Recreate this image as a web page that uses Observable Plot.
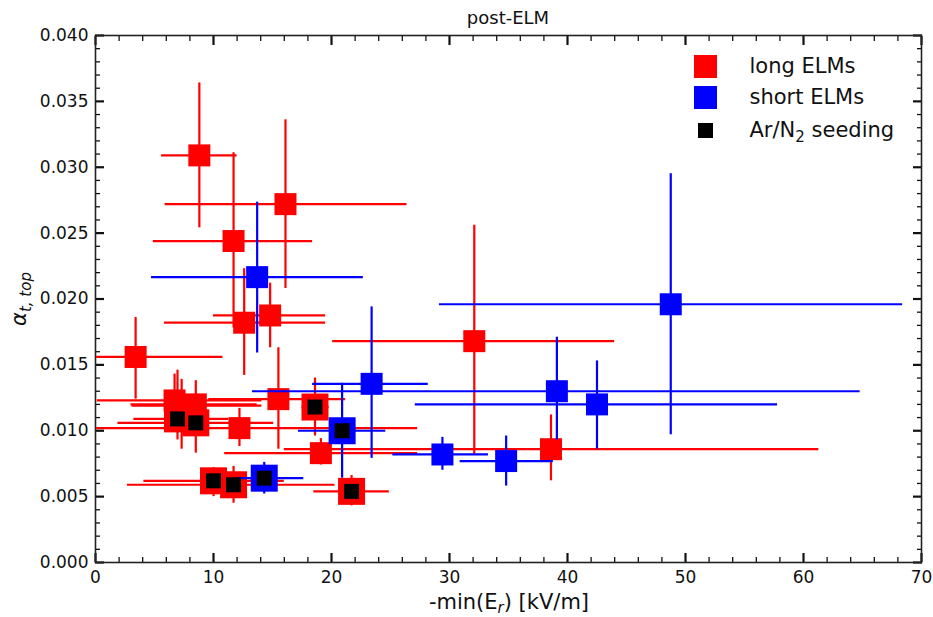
<!DOCTYPE html>
<html><head><meta charset="utf-8">
<script src="https://cdn.jsdelivr.net/npm/d3@7"></script>
<script src="https://cdn.jsdelivr.net/npm/@observablehq/plot@0.6"></script>
<style>
body{margin:0;background:#fff}
#chart svg{font-family:"DejaVu Sans",sans-serif;background:#fff}
</style>
</head><body><div id="chart"></div>
<script>
// ---- long ELMs (red) ----
const longX   = [8.8, 16.1, 11.7, 12.6, 14.8, 3.4, 32.1, 38.6, 15.5, 18.6, 21.7, 19.1, 12.2, 10.0, 11.7, 6.7, 6.95, 7.3, 8.5, 8.5];
const longY   = [0.0309, 0.0272, 0.0244, 0.0182, 0.01875, 0.0156, 0.0168, 0.0086, 0.0124, 0.0118, 0.0054, 0.0083, 0.0102, 0.0062, 0.0059, 0.0123, 0.0109, 0.0119, 0.0120, 0.0106];
const longXLo = [5.6, 5.9, 4.9, 5.85, 10.0, 0.1, 20.1, 16.0, 9.6, 17.5, 18.5, 10.95, 0.1, 4.1, 2.7, 0.15, 3.25, 3.1, 3.0, 1.9];
const longXHi = [12.0, 26.4, 18.4, 19.5, 19.5, 10.8, 44.0, 61.3, 21.2, 19.8, 24.9, 27.3, 27.3, 16.0, 20.3, 14.1, 11.3, 14.1, 13.7, 15.1];
const longYLo = [0.0254, 0.0208, 0.0178, 0.0142, 0.0163, 0.0124, 0.0082, 0.0062, 0.0086, 0.0096, 0.0043, 0.0074, 0.0088, 0.0050, 0.0045, 0.0099, 0.0093, 0.0086, 0.0101, 0.0083];
const longYHi = [0.0364, 0.0336, 0.0311, 0.0223, 0.0212, 0.0186, 0.0256, 0.0112, 0.0163, 0.0140, 0.0066, 0.0094, 0.0117, 0.0072, 0.0073, 0.0143, 0.0146, 0.0139, 0.0138, 0.0118];
const longSeeded = [0,0,0,0,0,0,0,0,0,1,1,0,0,1,1,0,1,0,0,1];

// ---- short ELMs (blue) ----
const shortX   = [13.7, 23.4, 39.1, 42.5, 29.4, 34.8, 48.75, 20.9, 14.3];
const shortY   = [0.02166, 0.01356, 0.0130, 0.0120, 0.0082, 0.0077, 0.0196, 0.0100, 0.0064];
const shortXLo = [4.75, 18.4, 13.3, 27.1, 25.2, 30.9, 29.15, 17.2, 12.0];
const shortXHi = [22.7, 28.2, 64.8, 57.8, 33.3, 38.8, 68.4, 24.6, 17.65];
const shortYLo = [0.0159, 0.0079, 0.0093, 0.0086, 0.0070, 0.0058, 0.0097, 0.0064, 0.0052];
const shortYHi = [0.02735, 0.0194, 0.0171, 0.0153, 0.0095, 0.0096, 0.0295, 0.0136, 0.0076];
const shortSeeded = [0,0,0,0,0,0,0,1,1];

// ---- ticks & legend ----
const xMajor = [0, 10, 20, 30, 40, 50, 60, 70];
const xMinor = [2,4,6,8,12,14,16,18,22,24,26,28,32,34,36,38,42,44,46,48,52,54,56,58,62,64,66,68];
const yMajor = [0, 0.005, 0.010, 0.015, 0.020, 0.025, 0.030, 0.035, 0.040];
const yMinor = [0.001,0.002,0.003,0.004,0.006,0.007,0.008,0.009,0.011,0.012,0.013,0.014,0.016,0.017,0.018,0.019,
                0.021,0.022,0.023,0.024,0.026,0.027,0.028,0.029,0.031,0.032,0.033,0.034,0.036,0.037,0.038,0.039];
const legendLabels = ["long ELMs", "short ELMs", "Ar/N2 seeding"];
const legendColors = ["#ff0000", "#0000ff", "#000000"];
const titleText = "post-ELM";

function table(X, Y, XLo, XHi, YLo, YHi, S) {
  return X.map((x, i) => ({x, y: Y[i], xlo: XLo[i], xhi: XHi[i], ylo: YLo[i], yhi: YHi[i], seeded: S[i] === 1}));
}
const longData = table(longX, longY, longXLo, longXHi, longYLo, longYHi, longSeeded);
const shortData = table(shortX, shortY, shortXLo, shortXHi, shortYLo, shortYHi, shortSeeded);
const seededData = [...longData.filter(d => d.seeded), ...shortData.filter(d => d.seeded)];

const RED = "#ff0000", BLUE = "#0000ff";
const SQ = 22 / Math.sqrt(Math.PI);      // r giving a 22px square
const SQ_OUT = 27 / Math.sqrt(Math.PI);
const SQ_IN = 15 / Math.sqrt(Math.PI);

function group(data, color) {
  return [
    Plot.ruleY(data, {y: "y", x1: "xlo", x2: "xhi", stroke: color, strokeWidth: 2.2}),
    Plot.ruleX(data, {x: "x", y1: "ylo", y2: "yhi", stroke: color, strokeWidth: 2.2}),
    Plot.dot(data, {x: "x", y: "y", symbol: "square", r: SQ, fill: color}),
    Plot.dot(data.filter(d => d.seeded), {x: "x", y: "y", symbol: "square", r: SQ_OUT, fill: color})
  ];
}

const legendMarks = [];
legendLabels.forEach((lab, i) => {
  const dy = [31, 62, 95][i];
  legendMarks.push(Plot.dot([lab], {frameAnchor: "top-right", dx: -216, dy, symbol: "square",
    r: i === 2 ? SQ_IN : 23 / Math.sqrt(Math.PI), fill: legendColors[i]}));
  legendMarks.push(Plot.text([lab], {frameAnchor: "top-right", dx: -172, dy, text: d => d,
    textAnchor: "start", lineAnchor: "middle", fontSize: 21, fill: "#111", className: "leg" + i}));
});

const plot = Plot.plot({
  width: 933, height: 617,
  marginLeft: 95, marginRight: 12, marginTop: 35, marginBottom: 55,
  style: {fontFamily: "DejaVu Sans", background: "#fff"},
  x: {domain: [0, 70]},
  y: {domain: [0, 0.04]},
  marks: [
    ...group(longData, RED),
    ...group(shortData, BLUE),
    Plot.dot(seededData, {x: "x", y: "y", symbol: "square", r: SQ_IN, fill: "#000"}),
    // tick labels
    Plot.axisX({ticks: xMajor, tickSize: 0, tickPadding: 8, tickFormat: d => String(d), fontSize: 17, label: null, fill: "#111"}),
    Plot.axisY({ticks: yMajor, tickSize: 0, tickPadding: 7, tickFormat: d => d.toFixed(3), fontSize: 17, label: null, fill: "#111"}),
    // inward major ticks, all sides
    Plot.axisX({ticks: xMajor, anchor: "bottom", tickSize: -9, strokeWidth: 2.2, fill: "none", label: null, stroke: "#111"}),
    Plot.axisX({ticks: xMajor, anchor: "top", tickSize: -9, strokeWidth: 2.2, fill: "none", label: null, stroke: "#111"}),
    Plot.axisY({ticks: yMajor, anchor: "left", tickSize: -9, strokeWidth: 2.2, fill: "none", label: null, stroke: "#111"}),
    Plot.axisY({ticks: yMajor, anchor: "right", tickSize: -9, strokeWidth: 2.2, fill: "none", label: null, stroke: "#111"}),
    // inward minor ticks
    Plot.axisX({ticks: xMinor, anchor: "bottom", tickSize: -5, strokeWidth: 1.3, fill: "none", label: null, stroke: "#111"}),
    Plot.axisX({ticks: xMinor, anchor: "top", tickSize: -5, strokeWidth: 1.3, fill: "none", label: null, stroke: "#111"}),
    Plot.axisY({ticks: yMinor, anchor: "left", tickSize: -5, strokeWidth: 1.3, fill: "none", label: null, stroke: "#111"}),
    Plot.axisY({ticks: yMinor, anchor: "right", tickSize: -5, strokeWidth: 1.3, fill: "none", label: null, stroke: "#111"}),
    Plot.frame({stroke: "#222", strokeWidth: 1.6}),
    ...legendMarks
  ]
});

const svg = d3.select(plot);
// subscript in the seeding legend entry
svg.selectAll("g.leg2 text").each(function() {
  const t = d3.select(this);
  t.text(null);
  t.append("tspan").text("Ar/N");
  t.append("tspan").attr("dy", 5).style("font-size", "15px").text("2");
  t.append("tspan").attr("dy", -5).text(" seeding");
});
// title
svg.append("text").attr("x", 508).attr("y", 24).attr("text-anchor", "middle")
  .style("font-size", "18px").attr("fill", "#111").text(titleText);
// x label
const xl = svg.append("text").attr("x", 509).attr("y", 609).attr("text-anchor", "middle")
  .style("font-size", "21px").attr("fill", "#111");
xl.append("tspan").text("-min(E");
xl.append("tspan").style("font-style", "italic").style("font-size", "15px").attr("dy", 4).text("r");
xl.append("tspan").attr("dy", -4).text(") [kV/m]");
// y label
const yl = svg.append("text").attr("transform", "translate(26,299) rotate(-90)").attr("text-anchor", "middle")
  .style("font-size", "21px").attr("fill", "#111");
yl.append("tspan").style("font-style", "italic").text("\u03b1");
yl.append("tspan").style("font-style", "italic").style("font-size", "15px").attr("dy", 5).text("t, top");

document.getElementById("chart").appendChild(plot);
</script>
</body></html>
